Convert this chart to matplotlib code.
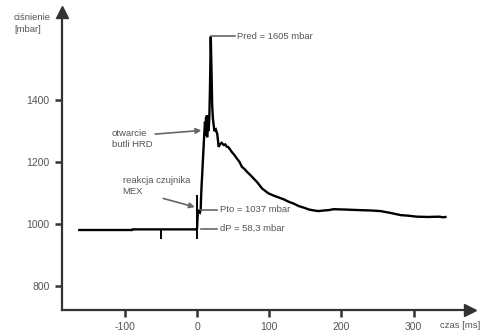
import matplotlib
matplotlib.use("Agg")
import matplotlib.pyplot as plt

plt.rcParams['font.family'] = ['Liberation Sans', 'DejaVu Sans']

# pressure trace (time in ms, pressure in mbar)
time_ms = [-163, -90, -89, -1, 0, 1, 2, 4, 5, 6, 8, 10, 11, 12, 12.5, 13, 13.5, 14, 15, 16,
           17, 18, 19, 20, 21, 22, 24, 26, 28, 30, 32, 34, 37, 39, 41, 43, 46, 48, 52,
           55, 59, 62, 66, 69, 73, 76, 80, 83, 87, 90, 95, 99, 106, 113, 120, 127, 134,
           141, 148, 155, 162, 168, 176, 182, 189, 205, 226, 240, 254, 268, 282, 293,
           304, 320, 335, 341, 344]
pressure = [981, 981, 983, 983, 985, 1035, 1042, 1037, 1045, 1110, 1200, 1290, 1330, 1285,
            1345, 1290, 1350, 1280, 1350, 1300, 1340, 1450, 1605, 1500, 1380, 1340, 1300,
            1305, 1290, 1249, 1258, 1262, 1255, 1257, 1250, 1249, 1240, 1233, 1222,
            1212, 1200, 1185, 1177, 1169, 1160, 1153, 1143, 1136, 1124, 1115, 1106, 1099,
            1092, 1086, 1080, 1072, 1066, 1058, 1053, 1047, 1044, 1042, 1044, 1045, 1048,
            1047, 1045, 1044, 1042, 1036, 1029, 1027, 1024, 1023, 1024, 1022, 1023]

# event markers
marker_times = [-50, 0]
marker_low = [955, 955]
marker_high = [981, 1090]

x_ticks = [-100, 0, 100, 200, 300]
y_ticks = [800, 1000, 1200, 1400]

p_red = 1605
p_to = 1037
dp_label = "dP = 58,3 mbar"

fig = plt.figure(figsize=(4.9, 3.31), dpi=100)
ax = fig.add_axes([62/490, 21/331, (470-62)/490, (310-12)/331])
ax.set_xlim(-187, 378)
ax.set_ylim(723, 1684)

axis_col = '#333333'
txt_col = '#555555'

ax.plot(time_ms, pressure, color='black', lw=1.7, solid_joinstyle='miter')
for t, lo, hi in zip(marker_times, marker_low, marker_high):
    ax.plot([t, t], [lo, hi], color='black', lw=1.4)

for s in ['top', 'right']:
    ax.spines[s].set_visible(False)
for s in ['left', 'bottom']:
    ax.spines[s].set_color(axis_col)
    ax.spines[s].set_linewidth(1.6)

ax.plot(1, 0, '>', color=axis_col, ms=8, transform=ax.transAxes, clip_on=False)
ax.plot(0, 1, '^', color=axis_col, ms=8, transform=ax.transAxes, clip_on=False)

ax.set_xticks(x_ticks)
ax.set_yticks(y_ticks)
ax.set_xticklabels([str(v) for v in x_ticks])
ax.set_yticklabels([str(v) for v in y_ticks])
ax.tick_params(axis='both', length=5, width=1.8, color=axis_col, labelsize=7.5,
               labelcolor=txt_col, pad=4)

ann_col = '#666666'
fs = 6.8
# Pred bracket
ax.plot([19, 52], [p_red, p_red], color=ann_col, lw=1.2)
ax.text(56, p_red, f"Pred = {p_red} mbar", fontsize=fs, color=txt_col, va='center', ha='left')
# Pto
ax.plot([6, 28], [1047, 1047], color=ann_col, lw=1.2)
ax.text(32, 1047, f"Pto = {p_to} mbar", fontsize=fs, color=txt_col, va='center', ha='left')
# dP
ax.plot([6, 28], [985, 985], color=ann_col, lw=1.2)
ax.text(32, 985, dp_label, fontsize=fs, color=txt_col, va='center', ha='left')

# arrows
ax.annotate("otwarcie\nbutli HRD", xy=(6, 1302), xytext=(-118, 1274),
            fontsize=fs, color=txt_col, ha='left', va='center',
            arrowprops=dict(arrowstyle='-|>', color=ann_col, lw=1.2, mutation_scale=8,
                            shrinkA=0, shrinkB=0, relpos=(1.0, 0.75)))
ax.annotate("reakcja czujnika\nMEX", xy=(-3, 1055), xytext=(-103, 1123),
            fontsize=fs, color=txt_col, ha='left', va='center',
            arrowprops=dict(arrowstyle='-|>', color=ann_col, lw=1.2, mutation_scale=8,
                            shrinkA=0, shrinkB=0, relpos=(0.45, 0.0)))

fig.text(14/490, 1 - 13/331, "ciśnienie\n[mbar]", fontsize=6.8, color=txt_col,
         ha='left', va='top', linespacing=1.4)
fig.text(440/490, 1 - 325/331, "czas [ms]", fontsize=6.8, color=txt_col,
         ha='left', va='center')

fig.savefig("out.png", dpi=100)
